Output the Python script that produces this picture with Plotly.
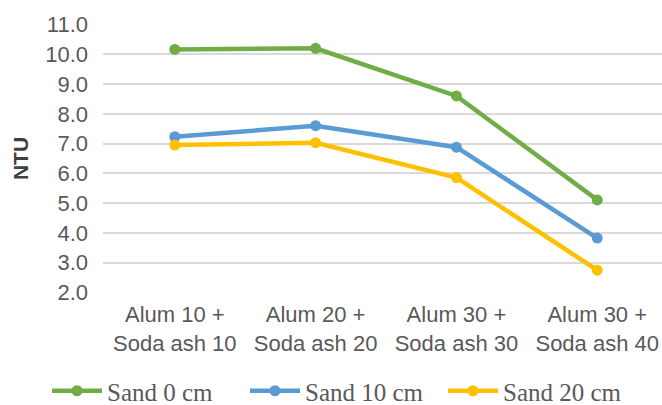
import plotly.graph_objects as go

categories = ["Alum 10 +<br>Soda ash 10", "Alum 20 +<br>Soda ash 20",
              "Alum 30 +<br>Soda ash 30", "Alum 30 +<br>Soda ash 40"]
series_names = ["Sand 0 cm", "Sand 10 cm", "Sand 20 cm"]
sand0 = [10.16, 10.2, 8.6, 5.11]
sand10 = [7.23, 7.6, 6.88, 3.83]
sand20 = [6.95, 7.03, 5.86, 2.75]
colors = ["#70AD47", "#5B9BD5", "#FFC000"]
y_ticks = [2, 3, 4, 5, 6, 7, 8, 9, 10, 11]

fig = go.Figure()
for name, vals, c in zip(series_names, [sand0, sand10, sand20], colors):
    fig.add_trace(go.Scatter(
        x=list(range(len(categories))), y=vals, name=name,
        mode="lines+markers",
        line=dict(color=c, width=4.5),
        marker=dict(color=c, size=11),
    ))

W, H = 662, 405
L, R, T, B = 103, 0, 24, 112
fig.update_layout(
    width=W, height=H,
    margin=dict(l=L, r=R, t=T, b=B, autoexpand=False),
    paper_bgcolor="white", plot_bgcolor="white",
    font=dict(family="Liberation Sans, Arial, sans-serif", size=22, color="#595959"),
    showlegend=True,
    legend=dict(orientation="h", x=(47 - L) / (W - L), xanchor="left",
                y=-(391 - (H - B)) / (H - T - B), yanchor="middle",
                font=dict(family="Liberation Serif, Times New Roman, serif", size=25, color="#595959"),
                itemwidth=50, tracegroupgap=0, bgcolor="rgba(0,0,0,0)",
                entrywidth=133, entrywidthmode="pixels"),
    xaxis=dict(
        range=[-0.51, 3.46], automargin=False,
        tickmode="array", tickvals=list(range(len(categories))), ticktext=categories,
        showgrid=False, zeroline=False, showline=False, ticks="",
        tickfont=dict(size=22, color="#595959"),
        ticklabelstandoff=6, ticklabeloverflow="allow",
    ),
    yaxis=dict(
        range=[1.985, 11.015], automargin=False,
        tickmode="array", tickvals=y_ticks, ticktext=[f"{v:.1f}" for v in y_ticks],
        showgrid=True, gridcolor="#D9D9D9", gridwidth=1.5,
        zeroline=False, showline=False, ticks="",
        tickfont=dict(size=22, color="#595959"),
        ticklabelstandoff=14,
        title=dict(text="<b>NTU</b>", font=dict(size=21, color="#404040"), standoff=10),
    ),
)

fig.write_html("out.html", config={"displayModeBar": False},
               post_script="document.body.style.margin='0';document.body.style.overflow='hidden';")
